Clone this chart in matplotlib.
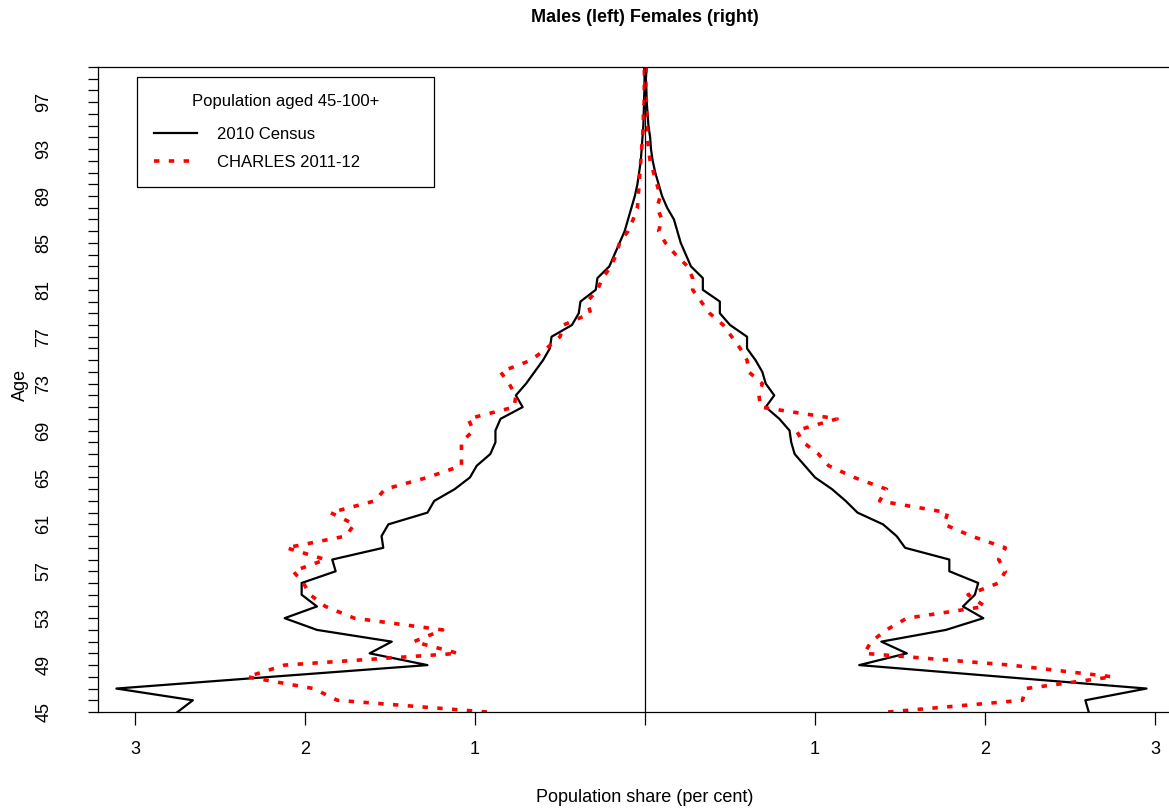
import matplotlib.pyplot as plt
from matplotlib.ticker import MultipleLocator

plt.rcParams['font.family'] = ['Liberation Sans', 'DejaVu Sans']

ages = list(range(45, 101))

# shares in per cent (ages 45..100)
male_census = [2.75, 2.66, 3.11, 2.20, 1.28, 1.62, 1.49, 1.93, 2.12, 1.93,
               2.02, 2.02, 1.82, 1.84, 1.54, 1.55, 1.51, 1.28, 1.24, 1.12,
               1.03, 0.99, 0.91, 0.88, 0.88, 0.85, 0.72, 0.76, 0.70, 0.65,
               0.60, 0.56, 0.55, 0.43, 0.39, 0.38, 0.29, 0.28, 0.21, 0.18,
               0.15, 0.12, 0.10, 0.08, 0.06, 0.045, 0.035, 0.025, 0.02, 0.015,
               0.01, 0.008, 0.006, 0.004, 0.003, 0.005]
male_charles = [0.93, 1.81, 1.95, 2.34, 2.12, 1.10, 1.36, 1.19, 1.71, 1.88,
                1.97, 2.01, 2.07, 1.88, 2.11, 1.76, 1.71, 1.85, 1.59, 1.53,
                1.28, 1.08, 1.08, 1.08, 1.01, 1.04, 0.77, 0.76, 0.80, 0.85,
                0.67, 0.58, 0.50, 0.48, 0.32, 0.34, 0.28, 0.25, 0.20, 0.17,
                0.15, 0.10, 0.07, 0.045, 0.04, 0.035, 0.03, 0.025, 0.02, 0.015,
                0.01, 0.01, 0.005, 0.005, 0.003, 0.005]
female_census = [2.61, 2.59, 2.95, 2.10, 1.26, 1.54, 1.39, 1.77, 1.99, 1.87,
                 1.94, 1.96, 1.79, 1.79, 1.53, 1.48, 1.40, 1.25, 1.18, 1.10,
                 1.00, 0.94, 0.88, 0.86, 0.85, 0.79, 0.71, 0.76, 0.71, 0.69,
                 0.65, 0.60, 0.60, 0.50, 0.44, 0.44, 0.34, 0.34, 0.27, 0.24,
                 0.21, 0.19, 0.17, 0.13, 0.10, 0.08, 0.06, 0.045, 0.035, 0.03,
                 0.02, 0.015, 0.01, 0.008, 0.005, 0.01]
female_charles = [1.43, 2.22, 2.24, 2.75, 2.15, 1.29, 1.33, 1.42, 1.54, 2.00,
                  1.90, 2.08, 2.12, 2.08, 2.12, 1.92, 1.76, 1.78, 1.38, 1.42,
                  1.23, 1.08, 1.02, 0.93, 0.89, 1.13, 0.68, 0.67, 0.69, 0.61,
                  0.60, 0.56, 0.51, 0.46, 0.38, 0.33, 0.28, 0.28, 0.25, 0.18,
                  0.12, 0.08, 0.10, 0.07, 0.09, 0.07, 0.05, 0.03, 0.02, 0.015,
                  0.01, 0.01, 0.008, 0.005, 0.004, 0.005]

xticks = [-3, -2, -1, 0, 1, 2, 3]
xticklabels = ['3', '2', '1', '', '1', '2', '3']
yticks = list(range(45, 100, 4))

fig = plt.figure(figsize=(11.69, 8.08), dpi=100)
ax = fig.add_axes([98/1169, 1 - 712/808, 1073/1169, 645/808])

dots = (0, (1.5, 2.6))
l1, = ax.plot([-v for v in male_census], ages, color='black', lw=1.6)
l2, = ax.plot([-v for v in male_charles], ages, color='red', lw=2.6, ls=dots)
ax.plot(female_census, ages, color='black', lw=1.6)
ax.plot(female_charles, ages, color='red', lw=2.6, ls=dots)
ax.axvline(0, color='black', lw=0.9)

ax.set_xlim(-3.218, 3.094)
ax.set_ylim(45, 100)
ax.set_xticks(xticks)
ax.set_xticklabels(xticklabels)
ax.set_yticks(yticks)
ax.set_yticklabels([str(a) for a in yticks], rotation=90, va='center')
ax.yaxis.set_minor_locator(MultipleLocator(1))
ax.tick_params(axis='x', length=9, width=0.9, pad=12, labelsize=13)
ax.tick_params(axis='y', which='both', length=7, width=0.9, pad=26, labelsize=13)
ax.spines['right'].set_visible(False)
for s in ['left', 'top', 'bottom']:
    ax.spines[s].set_linewidth(0.9)

leg = ax.legend([l1, l2], ['2010 Census', 'CHARLES 2011-12'],
                title='Population aged 45-100+', loc='upper left',
                bbox_to_anchor=(0.036, 0.985, 0.277, 0.0), mode='expand',
                borderaxespad=0, fontsize=12, title_fontsize=12,
                frameon=True, fancybox=False, edgecolor='black', framealpha=1,
                handlelength=2.6, handletextpad=1.2, borderpad=1.05,
                labelspacing=0.75)
leg._legend_box.sep = 13
leg.get_frame().set_linewidth(0.9)

fig.text(645/1169, 1 - 18/808, 'Males (left) Females (right)', ha='center',
         va='center', fontsize=13, weight='bold')
fig.text(645/1169, 1 - 797/808, 'Population share (per cent)', ha='center',
         va='center', fontsize=13)
fig.text(20/1169, 1 - 385/808, 'Age', ha='center', va='center',
         rotation=90, fontsize=13)

fig.savefig('out.png', dpi=100)
